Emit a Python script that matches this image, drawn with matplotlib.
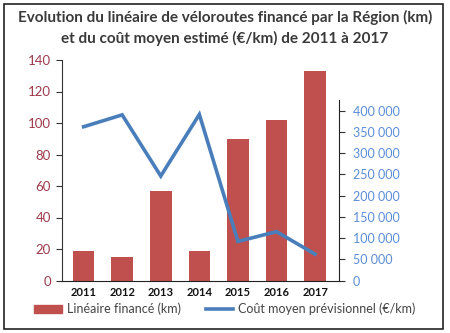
import matplotlib

matplotlib.use("Agg")
import matplotlib.pyplot as plt
from matplotlib.patches import Rectangle
from matplotlib.lines import Line2D

# Données
annees = ["2011", "2012", "2013", "2014", "2015", "2016", "2017"]
lineaire_km = [19, 15, 57, 19, 90, 102, 133]
cout_moyen = [362000, 390000, 246000, 391000, 92000, 115000, 62000]

rouge = '#c0504d'
bleu = '#4a7ebb'
texte_gauche = '#9e3a4c'
texte_droite = '#5b8dd6'

plt.rcParams['font.family'] = ['Lato', 'DejaVu Sans']

fig = plt.figure(figsize=(4.5, 3.33), dpi=100)
fig.patch.set_facecolor('white')

W, H = 450, 333

# Cadre noir autour
fig.patches.append(Rectangle((4 / W, 4 / H), 439 / W, 325 / H, transform=fig.transFigure,
                             fill=False, edgecolor='#222222', linewidth=1.2))

# Titre
fig.text(0.5, 1 - 17 / H, "Evolution du linéaire de véloroutes financé par la Région (km)",
         ha='center', va='center', fontsize=11, fontweight='bold', color='#3a3a3a')
fig.text(0.5, 1 - 38 / H, "et du coût moyen estimé (€/km) de 2011 à 2017",
         ha='center', va='center', fontsize=11, fontweight='bold', color='#3a3a3a')

# Axe gauche : barres
x0, x1 = 62, 339
ax = fig.add_axes([x0 / W, 1 - 280.5 / H, (x1 - x0) / W, (280.5 - 60) / H])
pos = list(range(len(annees)))
ax.bar(pos, lineaire_km, width=0.56, color=rouge)
ax.set_xlim(-0.56, 6.62)
ax.set_ylim(0, 140)
ax.set_yticks([0, 20, 40, 60, 80, 100, 120, 140])
ax.set_xticks(pos)
ax.set_xticklabels(annees, fontweight='bold', fontsize=8, color='#111111')
ax.tick_params(axis='x', length=0, pad=5)
ax.tick_params(axis='y', colors='#333333', labelcolor=texte_gauche, labelsize=9.5,
               direction='out', length=4, pad=4)
for s in ['top', 'right']:
    ax.spines[s].set_visible(False)
ax.spines['left'].set_color('#333333')
ax.spines['bottom'].set_color('#222222')
ax.patch.set_alpha(0)

# Axe droit : courbe
ax2 = fig.add_axes([x0 / W, 1 - 280.5 / H, (x1 - x0) / W, (280.5 - 100) / H])
ax2.plot(pos, cout_moyen, color=bleu, linewidth=2.6, solid_joinstyle='miter')
ax2.set_xlim(-0.56, 6.62)
ax2.set_ylim(0, 425000)
ax2.set_yticks(range(0, 400001, 50000))
ax2.set_yticklabels(["0" if v == 0 else f"{v // 1000} 000" for v in range(0, 400001, 50000)])
ax2.yaxis.tick_right()
ax2.set_xticks([])
ax2.tick_params(axis='y', colors='#333333', labelcolor=texte_droite, labelsize=9,
                direction='out', length=4, pad=6)
for s in ['top', 'left', 'bottom']:
    ax2.spines[s].set_visible(False)
ax2.spines['right'].set_color('#222222')
ax2.patch.set_alpha(0)

# Légende
poignees = [Rectangle((0, 0), 1, 1, color=rouge),
            Line2D([0], [0], color=bleu, linewidth=2.6)]
fig.legend(poignees, ["Linéaire financé (km)", "Coût moyen prévisionnel (€/km)"],
           loc='center', bbox_to_anchor=(0.5, 1 - 309 / H), ncol=2, frameon=False,
           fontsize=9, labelcolor='#444444', handlelength=2.2, columnspacing=2.0,
           handletextpad=0.4)

fig.savefig("out.png", dpi=100)
